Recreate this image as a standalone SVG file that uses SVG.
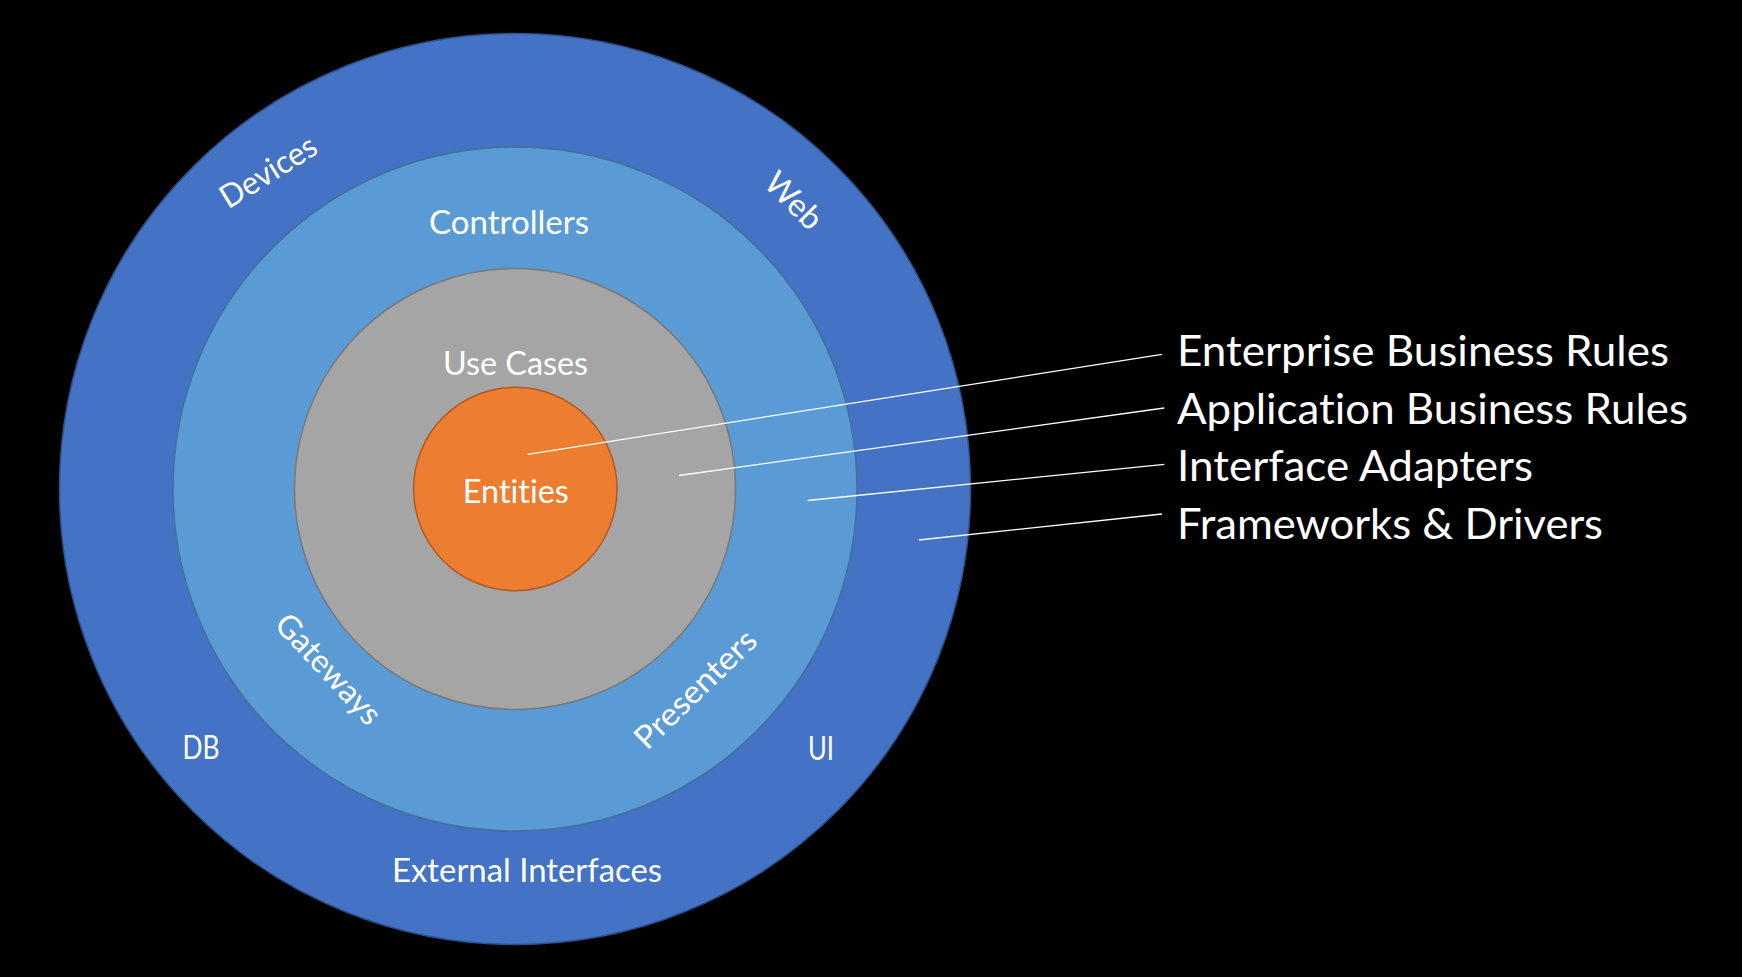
<svg xmlns="http://www.w3.org/2000/svg" width="1742" height="977" viewBox="0 0 1742 977">
<style>
.lbl{font-family:Lato,"Open Sans","Liberation Sans",sans-serif;fill:#ffffff;font-size:32px;font-variant-ligatures:none;font-feature-settings:"liga" 0}
.big{font-family:Lato,"Open Sans","Liberation Sans",sans-serif;fill:#ffffff;font-size:43px;font-variant-ligatures:none;font-feature-settings:"liga" 0}
.ld{stroke:#ffffff;stroke-width:1.3;fill:none}
</style>
<rect x="0" y="0" width="1742" height="977" fill="#000000"/>
<g id="frameworks-drivers">
<circle cx="515" cy="489" r="455.5" fill="#4472C4" stroke="#2F528F" stroke-width="1.5"/>
<text class="lbl" text-anchor="middle" textLength="108" lengthAdjust="spacingAndGlyphs" transform="translate(274,181) rotate(-32)">Devices</text>
<text class="lbl" text-anchor="middle" textLength="67" lengthAdjust="spacingAndGlyphs" transform="translate(786,208.5) rotate(45)">Web</text>
<text class="lbl" x="201" y="759" text-anchor="middle" textLength="37" lengthAdjust="spacingAndGlyphs">DB</text>
<text class="lbl" x="821" y="759.5" text-anchor="middle" textLength="26" lengthAdjust="spacingAndGlyphs">UI</text>
<text class="lbl" x="527" y="882" text-anchor="middle" textLength="270" lengthAdjust="spacingAndGlyphs">External Interfaces</text>
</g>
<g id="interface-adapters">
<circle cx="515" cy="489" r="342" fill="#5B9BD5" stroke="#41719C" stroke-width="1.5"/>
<text class="lbl" x="509" y="234" text-anchor="middle" textLength="160" lengthAdjust="spacingAndGlyphs">Controllers</text>
<text class="lbl" text-anchor="middle" textLength="139" lengthAdjust="spacingAndGlyphs" transform="translate(320.5,676.5) rotate(47)">Gateways</text>
<text class="lbl" text-anchor="middle" textLength="156" lengthAdjust="spacingAndGlyphs" transform="translate(703,697) rotate(-44)">Presenters</text>
</g>
<g id="application-business-rules">
<circle cx="515" cy="489" r="220.5" fill="#A5A5A5" stroke="#787878" stroke-width="1.5"/>
<text class="lbl" x="515.5" y="375" text-anchor="middle" textLength="145" lengthAdjust="spacingAndGlyphs">Use Cases</text>
</g>
<g id="enterprise-business-rules">
<circle cx="515.3" cy="489" r="101.7" fill="#ED7D31" stroke="#AE5A21" stroke-width="1.5"/>
<text class="lbl" x="515.8" y="502.5" text-anchor="middle" textLength="106" lengthAdjust="spacingAndGlyphs">Entities</text>
</g>
<g id="connectors">
<line class="ld" x1="527.7" y1="454.3" x2="1162" y2="354.4"/>
<line class="ld" x1="679" y1="475.5" x2="1164.3" y2="408"/>
<line class="ld" x1="807.7" y1="500.5" x2="1164.3" y2="464.4"/>
<line class="ld" x1="918.8" y1="540" x2="1162" y2="514"/>
</g>
<g id="legend">
<text class="big" x="1177" y="366" textLength="492" lengthAdjust="spacingAndGlyphs">Enterprise Business Rules</text>
<text class="big" x="1177" y="424" textLength="511" lengthAdjust="spacingAndGlyphs">Application Business Rules</text>
<text class="big" x="1177" y="481" textLength="356" lengthAdjust="spacingAndGlyphs">Interface Adapters</text>
<text class="big" x="1177" y="539" textLength="426" lengthAdjust="spacingAndGlyphs">Frameworks &amp; Drivers</text>
</g>
</svg>
